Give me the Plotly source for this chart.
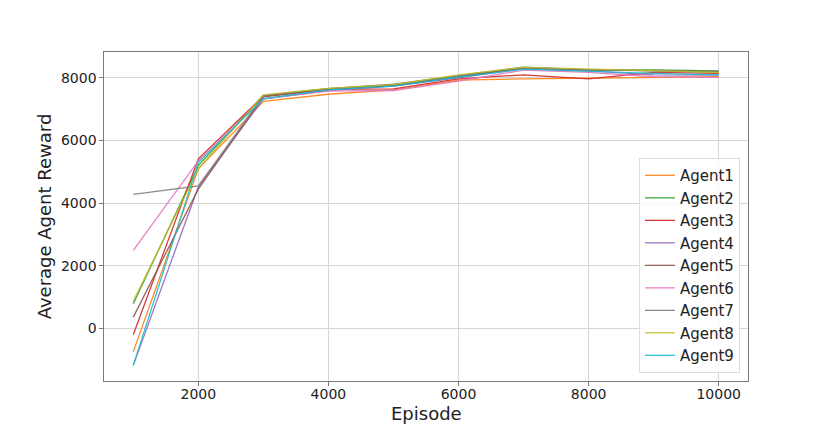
import plotly.graph_objects as go

episodes = [1000, 2000, 3000, 4000, 5000, 6000, 7000, 8000, 9000, 10000]
agent_names = ["Agent1", "Agent2", "Agent3", "Agent4", "Agent5", "Agent6", "Agent7", "Agent8", "Agent9"]
agent1 = [-750, 5100, 7250, 7480, 7620, 7930, 7970, 8000, 8020, 8040]
agent2 = [790, 5200, 7440, 7660, 7780, 8060, 8330, 8250, 8260, 8230]
agent3 = [-200, 5420, 7420, 7640, 7650, 7970, 8100, 7970, 8180, 8150]
agent4 = [-1180, 4520, 7330, 7600, 7740, 8000, 8300, 8230, 8100, 8090]
agent5 = [360, 4450, 7400, 7630, 7760, 8050, 8320, 8260, 8230, 8200]
agent6 = [2490, 5350, 7330, 7580, 7600, 7900, 8250, 8180, 8040, 8020]
agent7 = [4280, 4550, 7440, 7660, 7800, 8080, 8350, 8270, 8220, 8190]
agent8 = [870, 5100, 7460, 7670, 7790, 8100, 8340, 8290, 8240, 8180]
agent9 = [-1180, 5300, 7330, 7620, 7740, 8030, 8280, 8210, 8150, 8100]
y_ticks = [0, 2000, 4000, 6000, 8000]
x_ticks = [2000, 4000, 6000, 8000, 10000]
x_tick_labels = ["2000", "4000", "6000", "8000", "10000"]

series = [agent1, agent2, agent3, agent4, agent5, agent6, agent7, agent8, agent9]
colors = ["#ff7f0e", "#2ca02c", "#d62728", "#9467bd", "#8c564b",
          "#e377c2", "#7f7f7f", "#bcbd22", "#17becf"]

fig = go.Figure()
for name, vals, c in zip(agent_names, series, colors):
    fig.add_trace(go.Scatter(x=episodes, y=vals, mode="lines", name=name,
                             line=dict(color=c, width=1.3), opacity=0.9))

axis_common = dict(showline=True, linecolor="#7a7a7a", linewidth=1.2, mirror=True,
                   showgrid=True, gridcolor="#d6d6d6", gridwidth=1,
                   ticks="outside", ticklen=3.5, tickcolor="#7a7a7a",
                   zeroline=False, automargin=False,
                   tickfont=dict(size=14, color="#222"))

fig.update_layout(
    width=830, height=428,
    margin=dict(l=96, r=90, t=44, b=55),
    paper_bgcolor="white", plot_bgcolor="white",
    font=dict(family="DejaVu Sans", color="#222"),
    xaxis=dict(range=[550, 10450], tickvals=x_ticks, ticktext=x_tick_labels,
               ticklabelstandoff=-3, **axis_common),
    yaxis=dict(range=[-1680, 8830], tickvals=y_ticks,
               title=dict(text="Average Agent Reward", font=dict(size=18), standoff=4), **axis_common),
    legend=dict(x=0.9875, y=0.024, xanchor="right", yanchor="bottom",
                bgcolor="rgba(255,255,255,0.85)", bordercolor="#dddddd", borderwidth=1,
                font=dict(size=15, color="#222"), tracegroupgap=0, itemwidth=30),
    annotations=[dict(text="Episode", xref="paper", yref="paper", x=0.5, y=0,
                      xanchor="center", yanchor="middle", yshift=-32,
                      showarrow=False, font=dict(size=18, color="#222"))],
    showlegend=True,
)

fig.write_html("out.html")
